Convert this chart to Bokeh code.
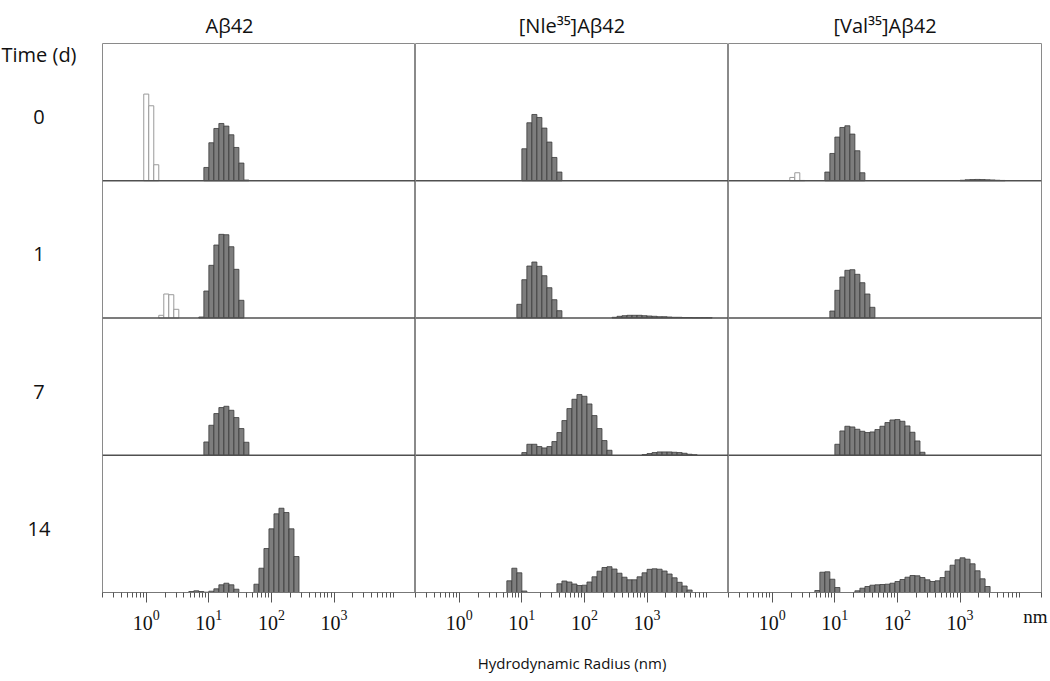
from bokeh.plotting import figure
from bokeh.models import ColumnDataSource, FixedTicker, Span, Range1d, LogTickFormatter, LogAxis
from bokeh.layouts import row
from bokeh.embed import file_html
from bokeh.resources import INLINE
from bokeh.core.properties import value

# ---------------- data ----------------
column_titles = ["Aβ42", "[Nle³⁵]Aβ42", "[Val³⁵]Aβ42"]
time_labels = ["0", "1", "7", "14"]
row_header = "Time (d)"
x_label = "Hydrodynamic Radius (nm)"
unit_label = "nm"
major_ticks = [1, 10, 100, 1000]
x_start, x_end = 0.2, 20000

LOG_BIN = 0.08   # bin width in log10(nm); bin n is centred on 10**(0.08*n) nm
ROW_H = 137.3    # intensity units spanned by one time row

# Abeta42  (first bin index, intensities)
ab42_d0_open_start, ab42_d0_open = 0, [86.7, 75, 16]
ab42_d0_start, ab42_d0 = 12, [13.3, 38, 52.3, 57.3, 54.7, 46, 33.3, 17.7, 0.7]
ab42_d1_open_start, ab42_d1_open = 3, [2.7, 24, 23.3, 8.7]
ab42_d1_start, ab42_d1 = 11, [1, 27, 52.7, 73, 83.7, 83.3, 71.3, 48.7, 17.7]
ab42_d7_start, ab42_d7 = 12, [13.3, 30, 41.7, 47.7, 49, 45, 37.7, 26.7, 13]
ab42_d14_start, ab42_d14 = 9, [1, 1.7, 1, 0.3, 1.3, 3.7, 7.7, 9.3, 7.7, 3.3, 0, 0, 0,
                               8.3, 24.3, 44, 63.7, 78.7, 84.3, 80, 63.7, 36]

# [Nle35]Abeta42
nle_d0_start, nle_d0 = 13, [32, 58, 66.3, 63.3, 52.7, 38.7, 23.3, 8.7]
nle_d1_start, nle_d1 = 12, [13.7, 38.3, 52, 56, 51.7, 42.3, 30.3, 18.3, 7.3,
                            0, 0, 0, 0, 0, 0, 0, 0, 0, 0,
                            0.7, 1.7, 2.3, 2.7, 2.7, 2.7, 2.3, 2, 1.7, 1.3,
                            1.3, 1, 0.7, 0.7, 0.5, 0.5, 0.3, 0.3, 0.3, 0.3]
nle_d7_start, nle_d7 = 13, [2.7, 11, 11, 8.7, 7.3, 8.7, 13.7, 22.7, 34.7, 46.7, 56, 60.7,
                            59, 51.3, 39.7, 26.7, 14.7, 5,
                            0, 0, 0, 0, 0, 0,
                            0.7, 1.7, 2.7, 3.3, 3.3, 3.3, 3, 2.7, 2, 1, 0.5]
nle_d14_start, nle_d14 = 10, [11.7, 24.3, 19.7, 1.5, 0, 0, 0, 0, 0, 0,
                              8.7, 11.5, 10.5, 8.5, 7, 7.3, 10.5, 15.7, 21.3, 25, 25.8,
                              23.5, 19.3, 15.3, 12.7, 12.7, 15.7, 19.7, 23.2, 23.7, 23.3,
                              21.5, 18.5, 14.7, 10.2, 6.5, 2.5]

# [Val35]Abeta42
val_d0_open_start, val_d0_open = 4, [3.3, 8, 0.3]
val_d0_start, val_d0 = 11, [8.7, 27.3, 43.7, 53.3, 55, 46.7, 30, 8,
                            0, 0, 0, 0, 0, 0, 0, 0, 0, 0, 0, 0, 0, 0, 0, 0, 0, 0, 0,
                            0.5, 1, 1.2, 1.3, 1.2, 1, 0.8, 0.5, 0.3]
val_d1_start, val_d1 = 12, [7, 27.7, 41, 47.7, 48.3, 43.7, 35.3, 24, 10.7]
val_d7_start, val_d7 = 13, [11, 24.3, 29, 28.3, 26, 24, 22.7, 23.3, 25.7, 29, 32.7, 35.3,
                            35.7, 34, 29.3, 23, 14.3, 3]
val_d14_start, val_d14 = 9, [2, 20.3, 20.7, 13.3, 5, 0, 0, 0,
                             1.7, 4.3, 6, 7.3, 7.7, 8, 8.3, 9.3, 11, 13, 15.3, 17, 16.7,
                             15, 12.7, 11, 11.7, 15, 21.3, 27.3, 32.7, 34.7, 33.3, 28.7,
                             21.7, 13.7, 6]

filled_series = [
    [(ab42_d0_start, ab42_d0), (ab42_d1_start, ab42_d1), (ab42_d7_start, ab42_d7), (ab42_d14_start, ab42_d14)],
    [(nle_d0_start, nle_d0), (nle_d1_start, nle_d1), (nle_d7_start, nle_d7), (nle_d14_start, nle_d14)],
    [(val_d0_start, val_d0), (val_d1_start, val_d1), (val_d7_start, val_d7), (val_d14_start, val_d14)],
]
open_series = [
    [(0, ab42_d0_open_start, ab42_d0_open), (1, ab42_d1_open_start, ab42_d1_open)],
    [],
    [(0, val_d0_open_start, val_d0_open)],
]

# ---------------- helpers ----------------
NROW = len(time_labels)


def bars(items):
    d = dict(left=[], right=[], bottom=[], top=[])
    for r, start, vals in items:
        base = (NROW - 1 - r) * ROW_H
        for i, v in enumerate(vals):
            if v <= 0:
                continue
            n = start + i
            d["left"].append(10 ** (LOG_BIN * (n - 0.5)))
            d["right"].append(10 ** (LOG_BIN * (n + 0.5)))
            d["bottom"].append(base)
            d["top"].append(base + v)
    return ColumnDataSource(d)


minor = [m * 10.0 ** e for e in range(-1, 4) for m in range(2, 10)] + [x_end]

SANS = "Open Sans"
SERIF = "Liberation Serif"
TOP_B, BOT_B = 43, 86
HEIGHT = 678
FRAME_W = 313
LEFT_W = 102
RIGHT_B = 7
UNIT_POS = 16000   # where the "nm" unit text sits along the last axis

# ---- left label strip ----
lab = figure(width=LEFT_W, height=HEIGHT, x_range=Range1d(0, LEFT_W), y_range=Range1d(0, NROW * ROW_H),
             x_axis_location=None, y_axis_location=None, toolbar_location=None, output_backend="svg",
             min_border_left=0, min_border_right=0, min_border_top=TOP_B, min_border_bottom=BOT_B)
lab.outline_line_color = None
lab.grid.visible = False
LABEL_X = 38.5
lab.text(x=[LABEL_X], y=[NROW * ROW_H - 11], text=[row_header], text_align="center",
         text_baseline="middle", text_font=value(SANS), text_font_size="20px", text_color="#111111")
lab.text(x=[LABEL_X] * NROW,
         y=[(NROW - 1 - r) * ROW_H + ROW_H / 2 - 5 for r in range(NROW)],
         text=time_labels, text_align="center", text_baseline="middle",
         text_font=value(SANS), text_font_size="20px", text_color="#111111")

title_align = ["left", "center", "center"]
title_offsets = [103, 0, 0]

figs = [lab]
for ci in range(3):
    width = FRAME_W + (RIGHT_B if ci == 2 else 0)
    p = figure(width=width, height=HEIGHT, x_axis_type="log",
               x_range=Range1d(x_start, x_end), y_range=Range1d(0, NROW * ROW_H),
               y_axis_location=None, toolbar_location=None, output_backend="svg",
               min_border_left=0, min_border_right=RIGHT_B if ci == 2 else 0,
               min_border_top=TOP_B, min_border_bottom=BOT_B,
               title=column_titles[ci])
    p.title.align = title_align[ci]
    p.title.offset = title_offsets[ci]
    p.title.text_font = SANS
    p.title.text_font_size = "20px"
    p.title.text_font_style = "normal"
    p.title.text_color = "#111111"
    p.grid.visible = False
    p.outline_line_color = "#8a8a8a"
    p.outline_line_width = 1
    p.background_fill_color = "white"
    p.border_fill_color = "white"

    ax = p.xaxis[0]
    ax.ticker = FixedTicker(ticks=major_ticks, minor_ticks=minor)
    ax.formatter = LogTickFormatter()
    ax.axis_line_color = "#777777"
    ax.major_tick_line_color = "#555555"
    ax.minor_tick_line_color = "#555555"
    ax.major_tick_out = 10
    ax.major_tick_in = 0
    ax.minor_tick_out = 5
    ax.minor_tick_in = 0
    ax.major_label_text_font = SERIF
    ax.major_label_text_font_size = "20px"
    ax.major_label_text_color = "#111111"
    ax.major_label_standoff = 7
    if ci == 1:
        ax.axis_label = x_label
        ax.axis_label_text_font = SANS
        ax.axis_label_text_font_size = "15px"
        ax.axis_label_text_font_style = "normal"
        ax.axis_label_text_color = "#111111"
        ax.axis_label_standoff = 20
    if ci == 2:
        unit_ax = LogAxis(ticker=FixedTicker(ticks=[UNIT_POS]),
                          major_label_overrides={UNIT_POS: unit_label},
                          axis_line_color=None, major_tick_line_color=None,
                          minor_tick_line_color=None, major_tick_out=0, major_tick_in=0,
                          major_label_standoff=-27,
                          major_label_text_font=SERIF, major_label_text_font_size="19px",
                          major_label_text_color="#111111")
        p.add_layout(unit_ax, "below")

    for k in range(1, NROW):
        p.add_layout(Span(location=k * ROW_H, dimension="width",
                          line_color="#505050", line_width=1.3))

    src = bars([(r, s, v) for r, (s, v) in enumerate(filled_series[ci])])
    p.quad(left="left", right="right", bottom="bottom", top="top", source=src,
           fill_color="#7d7d7d", line_color="#3a3a3a", line_width=0.8)
    if open_series[ci]:
        osrc = bars(open_series[ci])
        p.quad(left="left", right="right", bottom="bottom", top="top", source=osrc,
               fill_color="white", line_color="#9a9a9a", line_width=1)
    figs.append(p)

layout = row(*figs, spacing=0)
open("out.html", "w").write(file_html(layout, INLINE))
